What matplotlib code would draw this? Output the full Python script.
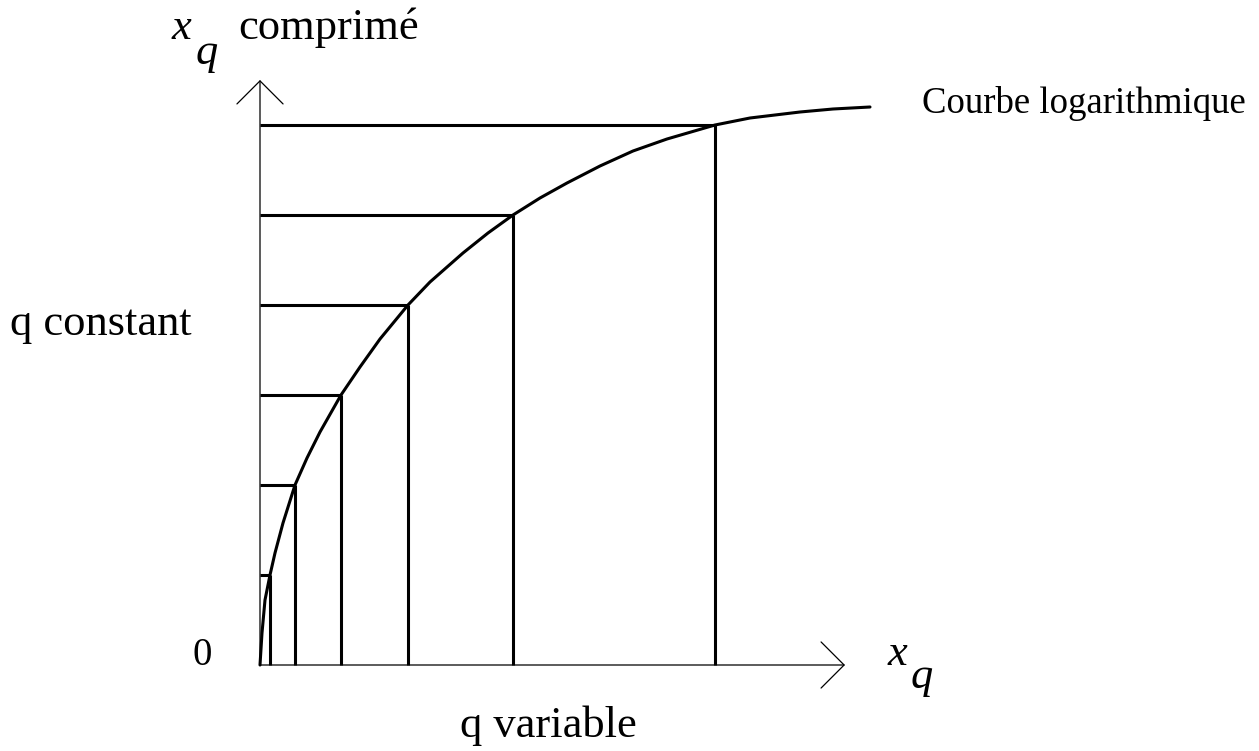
import matplotlib
matplotlib.use("Agg")
import matplotlib.pyplot as plt

# Logarithmic compression curve (relative units, origin at axes corner)
curve_x = [0, 2, 5, 10, 15, 23, 35, 47, 60, 81, 100, 120, 148, 170, 203, 228,
           253, 280, 307, 340, 373, 407, 455, 490, 540, 573, 610]
curve_y = [0, 32, 65, 90, 112, 142, 180, 207, 233, 270, 298, 326, 360, 383, 412,
           432, 450, 467, 482, 499, 514, 526, 540, 547, 553, 556, 558]

# Quantisation levels (constant step on compressed axis) and their inputs
levels = [90, 180, 270, 360, 450, 540]
inputs = [10, 35, 81, 148, 253, 455]

axis_len_x = 585
axis_len_y = 585

plt.rcParams['font.family'] = ['Liberation Serif', 'DejaVu Serif']

fig = plt.figure(figsize=(12.59, 7.51), dpi=100)
ax = fig.add_axes([0, 0, 1, 1])
ax.set_xlim(-260, 999)
ax.set_ylim(-86, 665)
ax.axis('off')

arrow_style = '->,head_length=0.83,head_width=0.83'
ax.annotate('', xy=(0, axis_len_y), xytext=(0, 0),
            arrowprops=dict(arrowstyle=arrow_style, lw=0.9, color='black',
                            mutation_scale=20, shrinkA=0, shrinkB=0))
ax.annotate('', xy=(axis_len_x, 0), xytext=(0, 0),
            arrowprops=dict(arrowstyle=arrow_style, lw=0.9, color='black',
                            mutation_scale=20, shrinkA=0, shrinkB=0))

lw = 2.2
ax.plot(curve_x, curve_y, color='black', lw=lw, solid_capstyle='round',
        solid_joinstyle='round')
ax.hlines(levels, 0, inputs, color='black', lw=lw)
ax.vlines(inputs, 0, levels, color='black', lw=lw)

fs = 32
ax.text(-79, 626, 'x', fontsize=fs, style='italic', ha='center', va='baseline')
ax.text(-53, 601, 'q', fontsize=fs, style='italic', ha='center', va='baseline')
ax.text(-22, 626, 'comprimé', fontsize=fs, ha='left', va='baseline')
ax.text(662, 552, 'Courbe logarithmique', fontsize=26.5, ha='left', va='baseline')
ax.text(-250, 330, 'q constant', fontsize=fs, ha='left', va='baseline')
ax.text(200, -72, 'q variable', fontsize=fs, ha='left', va='baseline')
ax.text(-58, 0, '0', fontsize=28, ha='center', va='baseline')
ax.text(637, 0, 'x', fontsize=fs, style='italic', ha='center', va='baseline')
ax.text(662, -23, 'q', fontsize=fs, style='italic', ha='center', va='baseline')

fig.savefig('out.png', dpi=100)
